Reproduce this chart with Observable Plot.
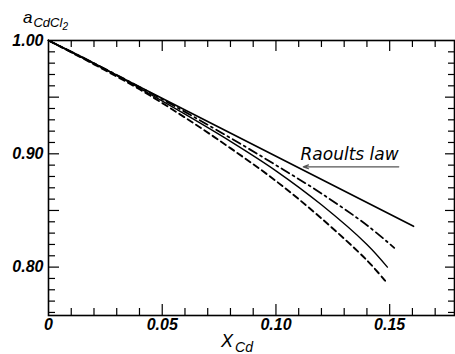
<!DOCTYPE html>
<html><head><meta charset="utf-8">
<script src="https://cdn.jsdelivr.net/npm/d3@7"></script>
<script src="https://cdn.jsdelivr.net/npm/@observablehq/plot@0.6"></script>
<style>
body{margin:0;background:#fff}
#chart svg{background:#fff}
</style>
</head><body><div id="chart"></div>
<script>
// Raoult's law (ideal) line
const raoultX = [0, 0.1605];
const raoultA = [1.000, 0.836];
// dash-dot curve
const dashDotX = [0, 0.02, 0.04, 0.06, 0.08, 0.10, 0.12, 0.14, 0.152];
const dashDotA = [1.000, 0.980, 0.959, 0.937, 0.914, 0.890, 0.865, 0.837, 0.817];
// second solid curve
const solidX = [0, 0.02, 0.04, 0.06, 0.08, 0.10, 0.12, 0.14, 0.149];
const solidA = [1.000, 0.980, 0.958, 0.935, 0.911, 0.885, 0.855, 0.820, 0.800];
// dashed curve
const dashedX = [0, 0.02, 0.04, 0.06, 0.08, 0.10, 0.12, 0.14, 0.148];
const dashedA = [1.000, 0.979, 0.957, 0.932, 0.905, 0.876, 0.843, 0.806, 0.788];

const xTickValues = [0, 0.05, 0.10, 0.15];
const xTickLabels = ["0", "0.05", "0.10", "0.15"];
const yTickValues = [0.80, 0.90, 1.00];
const yTickLabels = ["0.80", "0.90", "1.00"];
const xMinorTicks = d3.range(1, 18).map(i => i / 100).filter(v => Math.round(v * 100) % 5 !== 0);
const xMajorTicks = [0.05, 0.10, 0.15];
const yMinorTicks = d3.range(76, 100).map(i => i / 100).filter(v => Math.round(v * 100) % 5 !== 0);
const yMajorTicks = [0.80, 0.85, 0.90, 0.95];

const annotation = {text: "Raoults law", x: 0.1108, y: 0.899, ax1: 0.154, ax2: 0.112, ay: 0.8885};

const toRows = (xs, ys) => xs.map((x, i) => ({x, a: ys[i]}));

const W = 455, H = 354;
const mL = 48, mR = 1, mT = 40, mB = 39;
const pw = W - mL - mR, ph = H - mT - mB;
const minorLen = 7, majorLen = 11;

const tickFont = {fontFamily: "Liberation Sans, Arial, sans-serif", fontSize: 16, fontStyle: "italic", fontWeight: "bold"};

const plot = Plot.plot({
  width: W, height: H,
  marginLeft: mL, marginRight: mR, marginTop: mT, marginBottom: mB,
  x: {domain: [0, 0.1785], label: null},
  y: {domain: [0.7573, 1.0], label: null},
  style: {background: "#fff", color: "#000"},
  marks: [
    // inward ticks on all four sides
    Plot.ruleX(xMinorTicks, {x: d => d, insetTop: ph - minorLen, stroke: "#000", strokeWidth: 1.2}),
    Plot.ruleX(xMajorTicks, {x: d => d, insetTop: ph - majorLen, stroke: "#000", strokeWidth: 1.2}),
    Plot.ruleX(xMinorTicks, {x: d => d, insetBottom: ph - minorLen, stroke: "#000", strokeWidth: 1.2}),
    Plot.ruleX(xMajorTicks, {x: d => d, insetBottom: ph - majorLen, stroke: "#000", strokeWidth: 1.2}),
    Plot.ruleY(yMinorTicks, {y: d => d, insetRight: pw - minorLen, stroke: "#000", strokeWidth: 1.2}),
    Plot.ruleY(yMajorTicks, {y: d => d, insetRight: pw - majorLen, stroke: "#000", strokeWidth: 1.2}),
    Plot.ruleY(yMinorTicks, {y: d => d, insetLeft: pw - 6, stroke: "#000", strokeWidth: 1.2}),
    Plot.ruleY(yMajorTicks, {y: d => d, insetLeft: pw - 9, stroke: "#000", strokeWidth: 1.2}),
    Plot.axisX(xTickValues, {tickSize: 0, tickPadding: 3, tickFormat: (d, i) => xTickLabels[i], ...tickFont}),
    Plot.axisY(yTickValues, {tickSize: 0, tickPadding: 5, tickFormat: (d, i) => yTickLabels[i], ...tickFont}),
    // curves
    Plot.line(toRows(raoultX, raoultA), {x: "x", y: "a", stroke: "#000", strokeWidth: 1.6}),
    Plot.line(toRows(dashDotX, dashDotA), {x: "x", y: "a", curve: "catmull-rom", stroke: "#000", strokeWidth: 1.8, strokeDasharray: "9,4,2,4"}),
    Plot.line(toRows(solidX, solidA), {x: "x", y: "a", curve: "catmull-rom", stroke: "#000", strokeWidth: 1.4}),
    Plot.line(toRows(dashedX, dashedA), {x: "x", y: "a", curve: "catmull-rom", stroke: "#000", strokeWidth: 1.9, strokeDasharray: "6,4"}),
    // annotation
    Plot.text([annotation], {x: "x", y: "y", text: "text", textAnchor: "start", fontFamily: "DejaVu Sans, sans-serif", fontSize: 17, fontStyle: "italic", fill: "#000"}),
    Plot.arrow([annotation], {x1: "ax1", x2: "ax2", y1: "ay", y2: "ay", stroke: "#555", strokeWidth: 1.2, headLength: 7, headAngle: 40}),
    Plot.frame({stroke: "#000", strokeWidth: 1.6})
  ]
});

const svg = d3.select(plot);
// y-axis title: a_{CdCl_2}
const yt = svg.append("text")
  .attr("x", 23).attr("y", 23)
  .attr("text-anchor", "start")
  .attr("font-family", "Liberation Sans, Arial, sans-serif")
  .attr("font-style", "italic").attr("fill", "#000");
yt.append("tspan").attr("font-size", 17).text("a");
yt.append("tspan").attr("font-size", 13).attr("dy", 4).attr("dx", 1).text("CdCl");
yt.append("tspan").attr("font-size", 10).attr("dy", 3).text("2");
// x-axis title: x_{Cd}
const xt = svg.append("text")
  .attr("x", 221).attr("y", 347)
  .attr("text-anchor", "start")
  .attr("font-family", "Liberation Sans, Arial, sans-serif")
  .attr("font-style", "italic").attr("fill", "#000");
xt.append("tspan").attr("font-size", 18).text("X");
xt.append("tspan").attr("font-size", 14).attr("dy", 5).attr("dx", 2).text("Cd");

document.getElementById("chart").appendChild(plot);
</script>
</body></html>
